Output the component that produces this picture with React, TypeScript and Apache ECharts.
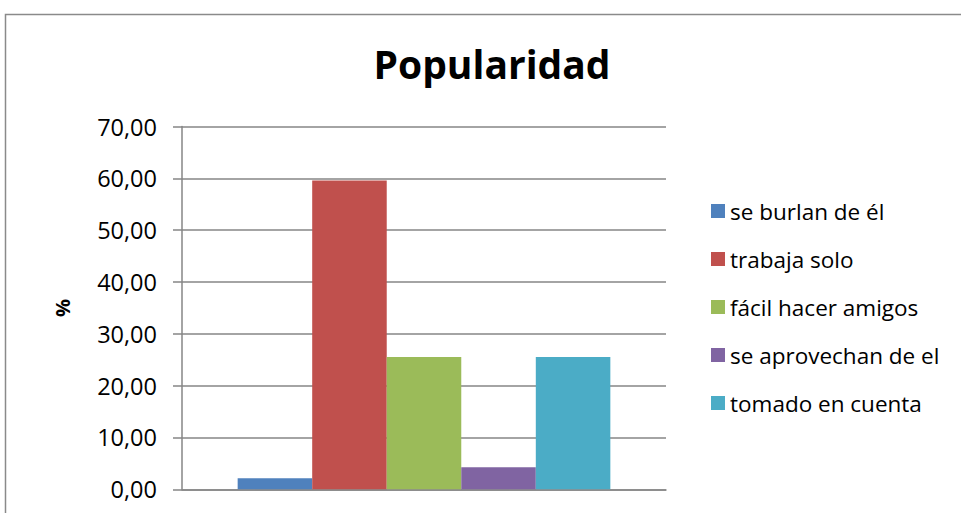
import React, { useEffect, useRef } from "react";
import * as echarts from "echarts";

const categories = [""];
const seriesNames = [
  "se burlan de él",
  "trabaja solo",
  "fácil hacer amigos",
  "se aprovechan de el",
  "tomado en cuenta",
];
const seriesValues = [2.13, 59.57, 25.53, 4.26, 25.53];
const seriesColors = ["#4F81BD", "#C0504D", "#9BBB59", "#8064A2", "#4BACC6"];
const yTicks = { min: 0, max: 70, interval: 10 };

const FONT = "'Open Sans', sans-serif";

export default function App() {
  const ref = useRef<HTMLDivElement>(null);
  useEffect(() => {
    if (!ref.current) return;
    const chart = echarts.init(ref.current, null, { renderer: "svg" });
    chart.setOption({
      animation: false,
      backgroundColor: "#ffffff",
      title: {
        text: "Popularidad",
        left: 487,
        textAlign: "center",
        top: 39,
        textStyle: { fontFamily: FONT, fontSize: 39, fontWeight: "bold", color: "#000" },
      },
      graphic: [
        {
          type: "rect",
          shape: { x: 5.5, y: 14.5, width: 1100, height: 700 },
          style: { fill: "none", stroke: "#8a8a8a", lineWidth: 1.5 },
          silent: true,
        },
      ],
      legend: {
        orient: "vertical",
        left: 711,
        top: 199,
        padding: 0,
        itemWidth: 14,
        itemHeight: 14,
        itemGap: 24,
        icon: "rect",
        textStyle: { fontFamily: FONT, fontSize: 22.5, color: "#000", lineHeight: 24, padding: [0, 0, 0, 0] },
        data: seriesNames,
      },
      grid: { left: 182, right: 295, top: 126.5, bottom: 23.7, containLabel: false },
      xAxis: {
        type: "category",
        data: categories,
        axisLine: { show: true, lineStyle: { color: "#868686", width: 1.5 } },
        axisTick: { show: false },
        axisLabel: { show: false },
      },
      yAxis: {
        type: "value",
        min: yTicks.min,
        max: yTicks.max,
        interval: yTicks.interval,
        name: "%",
        nameLocation: "middle",
        nameGap: 110,
        nameTextStyle: { fontFamily: FONT, fontSize: 20, fontWeight: "bold", color: "#000" },
        axisLine: { show: true, lineStyle: { color: "#868686", width: 1.5 } },
        axisTick: { show: true, length: 9, lineStyle: { color: "#868686", width: 1.5 } },
        axisLabel: {
          margin: 25,
          fontFamily: FONT,
          fontSize: 23.5,
          color: "#000",
          formatter: (v: number) => v.toFixed(2).replace(".", ","),
        },
        splitLine: { show: true, lineStyle: { color: "#868686", width: 1.5 } },
      },
      series: seriesNames.map((name, i) => ({
        name,
        type: "bar",
        data: [seriesValues[i]],
        barGap: "0%",
        barCategoryGap: "23%",
        itemStyle: { color: seriesColors[i] },
      })),
    });
    return () => chart.dispose();
  }, []);
  return (
    <div
      ref={ref}
      style={{ position: "absolute", left: 0, top: 0, width: 961, height: 513 }}
    />
  );
}
